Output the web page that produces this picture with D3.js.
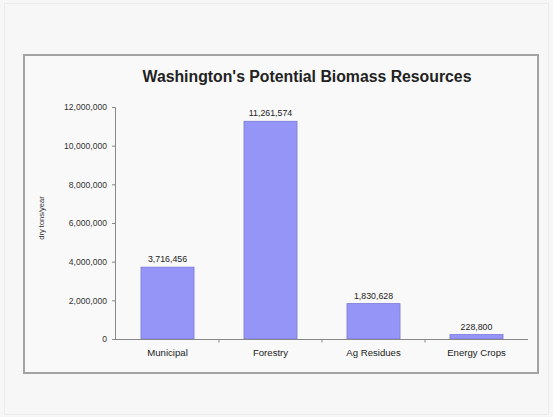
<!DOCTYPE html>
<html><head><meta charset="utf-8">
<script src="https://cdn.jsdelivr.net/npm/d3@7"></script>
<style>
html,body{margin:0;padding:0;background:#f7f7f7;}
svg{display:block;}
</style></head>
<body>
<script>
const categories = ["Municipal", "Forestry", "Ag Residues", "Energy Crops"];
const values = [3716456, 11261574, 1830628, 228800];
const yTicks = [0, 2000000, 4000000, 6000000, 8000000, 10000000, 12000000];
const title = "Washington's Potential Biomass Resources";
const yLabel = "dry tons/year";

const W = 553, H = 417;
const svg = d3.select("body").append("svg").attr("width", W).attr("height", H);

// outer faint border
svg.append("rect").attr("x", 4.5).attr("y", 3.5).attr("width", 544).attr("height", 411)
  .attr("fill", "#f7f7f7").attr("stroke", "#ececec");
// chart frame
svg.append("rect").attr("x", 24).attr("y", 55).attr("width", 514).attr("height", 318)
  .attr("fill", "#f9f9f9").attr("stroke", "#a3a3a3").attr("stroke-width", 2);

const x = d3.scaleBand().domain(categories).range([116, 528]).paddingInner(0.485).paddingOuter(0.2425);
const y = d3.scaleLinear().domain([0, 12000000]).range([339, 107]);

const fmt = d3.format(",");
const FONT = "Liberation Sans, Arial, sans-serif";

// bars
svg.selectAll("rect.bar").data(values).enter().append("rect")
  .attr("class", "bar")
  .attr("x", (d, i) => x(categories[i]))
  .attr("y", d => y(d))
  .attr("width", x.bandwidth())
  .attr("height", d => y(0) - y(d))
  .attr("fill", "#9595f7").attr("stroke", "#7a7ad8").attr("stroke-width", 0.8);

// value labels
svg.selectAll("text.val").data(values).enter().append("text")
  .attr("x", (d, i) => x(categories[i]) + x.bandwidth() / 2)
  .attr("y", d => y(d) - 5)
  .attr("text-anchor", "middle")
  .attr("font-family", FONT)
  .attr("font-size", 8.8).attr("fill", "#222")
  .text(d => fmt(d));

// y axis
const yAxis = d3.axisLeft(y).tickValues(yTicks).tickFormat(fmt).tickSize(3).tickPadding(5);
const gy = svg.append("g").attr("transform", "translate(115,0)").call(yAxis);
gy.select(".domain").attr("stroke", "#888");
gy.selectAll(".tick line").attr("stroke", "#888");
gy.selectAll("text").attr("font-family", FONT)
  .attr("font-size", 8.6).attr("fill", "#333");

// x axis
const xBoundary = d3.scaleLinear().domain([0, categories.length]).range([116, 528]);
svg.append("line").attr("x1", 115).attr("x2", 528).attr("y1", 339.5).attr("y2", 339.5)
  .attr("stroke", "#888");
svg.selectAll("line.xt").data(d3.range(1, categories.length)).enter().append("line")
  .attr("x1", d => xBoundary(d)).attr("x2", d => xBoundary(d))
  .attr("y1", 339.5).attr("y2", 342.5).attr("stroke", "#888");
svg.selectAll("text.cat").data(categories).enter().append("text")
  .attr("x", d => x(d) + x.bandwidth() / 2)
  .attr("y", 356)
  .attr("text-anchor", "middle")
  .attr("font-family", FONT)
  .attr("font-size", 9.6).attr("fill", "#222")
  .text(d => d);

// y label
svg.append("text").attr("transform", "translate(44,218) rotate(-90)")
  .attr("text-anchor", "middle")
  .attr("font-family", FONT)
  .attr("font-size", 7.5).attr("fill", "#333")
  .text(yLabel);

// title
svg.append("text").attr("x", 307).attr("y", 82)
  .attr("text-anchor", "middle")
  .attr("font-family", FONT)
  .attr("font-weight", "bold").attr("font-size", 15.8).attr("fill", "#222")
  .text(title);
</script>
</body></html>
